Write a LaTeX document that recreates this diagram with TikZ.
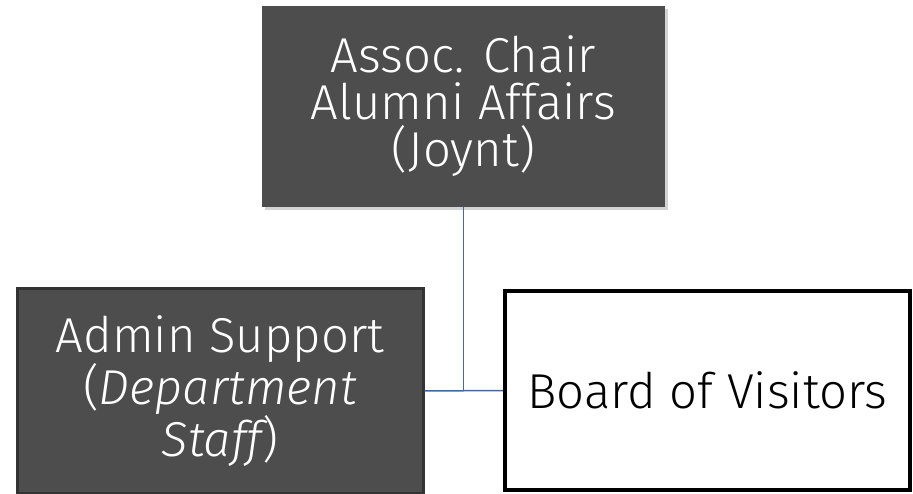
\documentclass[tikz,border=0pt]{standalone}
\usepackage{fontspec}
\setmainfont{Fira Sans Light}
\usetikzlibrary{shadows}
\definecolor{boxgray}{HTML}{4D4D4D}
\definecolor{boxedge}{HTML}{333333}
\definecolor{linkblue}{HTML}{3F69A8}
\tikzset{
  darkbox/.style={fill=boxgray, text=white, inner sep=0pt, align=center, font=\fontsize{49}{47}\selectfont},
  whitebox/.style={fill=white, draw=black, line width=4.5pt, inner sep=0pt, align=center, font=\fontsize{49}{47}\selectfont},
  link/.style={draw=linkblue, line width=1.5pt}
}
\begin{document}
\begin{tikzpicture}[x=1pt,y=-1pt]
\useasboundingbox (0,0) rectangle (913,494);
\node[darkbox, minimum width=403pt, minimum height=201pt, drop shadow={shadow xshift=3pt, shadow yshift=-3pt, opacity=0.35}] (chair) at (463.5,106.5) {Assoc. Chair\\Alumni Affairs\\(Joynt)};
\node[darkbox, draw=boxedge, line width=3pt, minimum width=406pt, minimum height=204pt] (admin) at (220,391) {Admin Support\\({\itshape Department}\\{\itshape Staff})};
\node[whitebox, minimum width=405pt, minimum height=199pt] (bov) at (707.5,390.5) {Board of Visitors};
\coordinate (j) at (chair.south |- admin.east);
\draw[link] (chair.south) -- (j);
\draw[link] (admin.east) -- (bov.west);
\end{tikzpicture}
\end{document}
